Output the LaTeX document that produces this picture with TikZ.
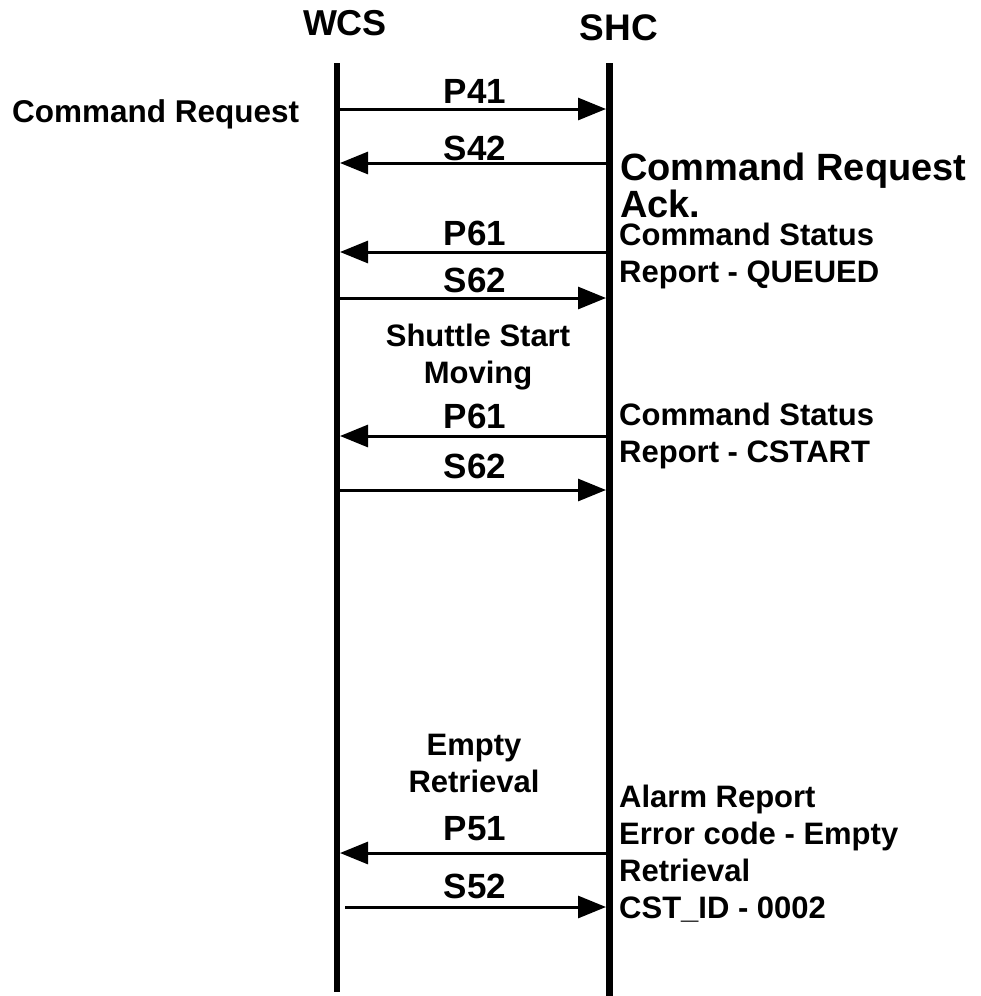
\documentclass[tikz,border=0pt]{standalone}
\usepackage{fontspec}
\setmainfont{Liberation Sans}
\usetikzlibrary{arrows.meta}
\definecolor{Ink}{HTML}{000000}
\tikzset{
    actor/.style={font=\bfseries\fontsize{36}{40}\selectfont, anchor=base, inner sep=0pt},
    lifeline/.style={Ink, line width=6.5pt},
    msg/.style={Ink, line width=3pt, -{Triangle[length=28pt, width=22pt]}},
    msglabel/.style={font=\bfseries\fontsize{35}{40}\selectfont, anchor=base, inner sep=0pt},
    note/.style={font=\bfseries\fontsize{31}{37}\selectfont, align=left, anchor=base west, inner sep=0pt},
    event/.style={font=\bfseries\fontsize{31}{37}\selectfont, align=center, anchor=base, inner sep=0pt},
}

\begin{document}
\begin{tikzpicture}[x=1pt, y=-1pt]
\useasboundingbox (0,0) rectangle (980,996);

% lifelines
\node[actor] (wcs) at (345,35) {WCS};
\node[actor, font=\bfseries\fontsize{37}{40}\selectfont] (shc) at (619,40) {SHC};
\coordinate (wcs-top) at (337,63);
\coordinate (wcs-bot) at (337,992);
\coordinate (shc-top) at (609.5,63);
\coordinate (shc-bot) at (609.5,996);
\draw[lifeline] (wcs-top) -- (wcs-bot);
\draw[lifeline] (shc-top) -- (shc-bot);

% message end points
\foreach \n/\y in {1/109, 2/163, 3/252, 4/298, 5/436, 6/490, 7/853, 8/907} {
    \coordinate (w\n) at (340,\y);
    \coordinate (s\n) at (606,\y);
}
\coordinate (w8) at (345,907);

\draw[msg] (w1) -- (s1);
\draw[msg] (s2) -- (w2);
\draw[msg] (s3) -- (w3);
\draw[msg] (w4) -- (s4);
\draw[msg] (s5) -- (w5);
\draw[msg] (w6) -- (s6);
\draw[msg] (s7) -- (w7);
\draw[msg] (w8) -- (s8);

\foreach \n/\y/\t in {1/103/P41, 2/160/S42, 3/245/P61, 4/292/S62,
                      5/428/P61, 6/478/S62, 7/840/P51, 8/898/S52} {
    \node[msglabel] (lab\n) at (475,\y) {\t};
}

% notes (base = last line)
\node[note, font=\bfseries\fontsize{31.5}{37}\selectfont] (req) at (12,122) {Command Request};
\node[note, font=\bfseries\fontsize{38}{37}\selectfont] (ack) at (620,217) {Command Request\\Ack.};
\node[note] (queued) at (619,282) {Command Status\\Report - QUEUED};
\node[note] (cstart) at (619,462) {Command Status\\Report - CSTART};
\node[note] (alarm) at (619,918) {Alarm Report\\Error code - Empty\\Retrieval\\CST\_ID - 0002};
\node[event] (moving) at (478,383) {Shuttle Start\\Moving};
\node[event] (empty) at (474,792) {Empty\\Retrieval};

\end{tikzpicture}
\end{document}
